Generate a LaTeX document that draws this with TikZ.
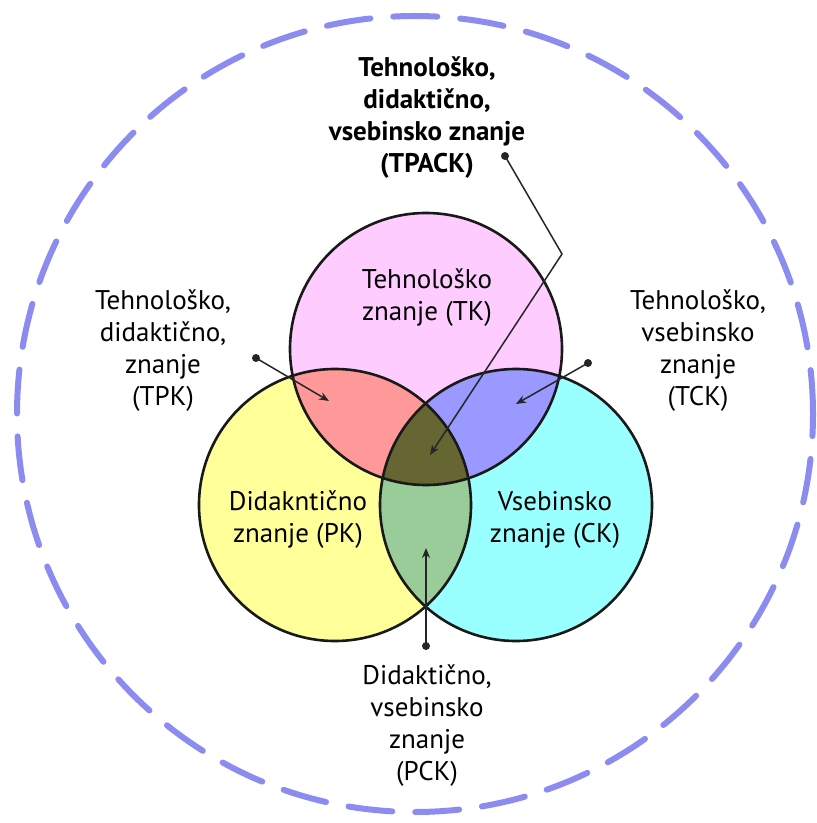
\documentclass[tikz,border=0pt]{standalone}
\usepackage{fontspec}
\setmainfont{PT Sans}
\usetikzlibrary{arrows.meta}

\definecolor{ringblue}{HTML}{8C8CF0}
\definecolor{tkpink}{HTML}{FFCCFF}
\definecolor{pkyellow}{HTML}{FFFF99}
\definecolor{ckcyan}{HTML}{99FFFF}
\definecolor{tpkred}{HTML}{FF9999}
\definecolor{tckblue}{HTML}{9999FF}
\definecolor{pckgreen}{HTML}{99CC99}
\definecolor{tpackolive}{HTML}{666633}

\begin{document}
\begin{tikzpicture}[x=0.5pt,y=-0.5pt,>={Stealth[length=5pt,width=4pt]},
                    txt/.style={align=center,inner sep=0pt,
                                font=\fontsize{13.5}{16}\selectfont},
                    pin/.style={circle,fill=black!85,inner sep=0pt,minimum size=4pt},
                    lead/.style={->,line width=0.75pt,draw=black!85},
                    rim/.style={line width=1.3pt,draw=black!90},
                    ring/.style={line width=3pt,draw=ringblue,line cap=round,
                                 dash pattern=on 22pt off 11.5pt}]

  \useasboundingbox (0,0) rectangle (816,823);

  \coordinate (cT) at (426,349);
  \coordinate (cP) at (335,505);
  \coordinate (cC) at (516,505);

  % outer ring
  \draw[ring] (415,414) circle (199pt);

  % the three knowledge areas
  \fill[tkpink]   (cT) circle (68pt);
  \fill[pkyellow] (cP) circle (68pt);
  \fill[ckcyan]   (cC) circle (68pt);

  \begin{scope}
    \clip (cT) circle (68pt);
    \fill[tpkred] (cP) circle (68pt);
    \fill[tckblue] (cC) circle (68pt);
  \end{scope}
  \begin{scope}
    \clip (cP) circle (68pt);
    \fill[pckgreen] (cC) circle (68pt);
  \end{scope}
  \begin{scope}
    \clip (cT) circle (68pt);
    \clip (cP) circle (68pt);
    \fill[tpackolive] (cC) circle (68pt);
  \end{scope}

  \draw[rim] (cT) circle (68pt);
  \draw[rim] (cP) circle (68pt);
  \draw[rim] (cC) circle (68pt);

  % labels
  \node[txt] (TK) at (427,298) {Tehnološko\\znanje (TK)};
  \node[txt] (PK) at (298,520) {Didakntično\\znanje (PK)};
  \node[txt] (CK) at (555,520) {Vsebinsko\\znanje (CK)};

  \node[txt,font=\fontsize{13.5}{16}\selectfont\bfseries] (TPACK) at (427,118)
       {Tehnološko,\\didaktično,\\vsebinsko znanje\\(TPACK)};
  \node[txt] (TPK) at (163,351) {Tehnološko,\\didaktično,\\znanje\\(TPK)};
  \node[txt] (TCK) at (698,351) {Tehnološko,\\vsebinsko\\znanje\\(TCK)};
  \node[txt] (PCK) at (427,726) {Didaktično,\\vsebinsko\\znanje\\(PCK)};

  % pointers
  \node[pin] (pTPACK) at (505,156) {};
  \node[pin] (pTPK)   at (256,358) {};
  \node[pin] (pTCK)   at (588,363) {};
  \node[pin] (pPCK)   at (426,646) {};

  \coordinate (kink)    at (562,254);
  \coordinate (aTPACK)  at (430,455);
  \coordinate (aTPK)    at (329,401);
  \coordinate (aTCK)    at (516,404);
  \coordinate (aPCK)    at (426,548);

  \draw[lead] (pTPACK.center) -- (kink) -- (aTPACK);
  \draw[lead] (pTPK.center) -- (aTPK);
  \draw[lead] (pTCK.center) -- (aTCK);
  \draw[lead] (pPCK.center) -- (aPCK);
\end{tikzpicture}
\end{document}
